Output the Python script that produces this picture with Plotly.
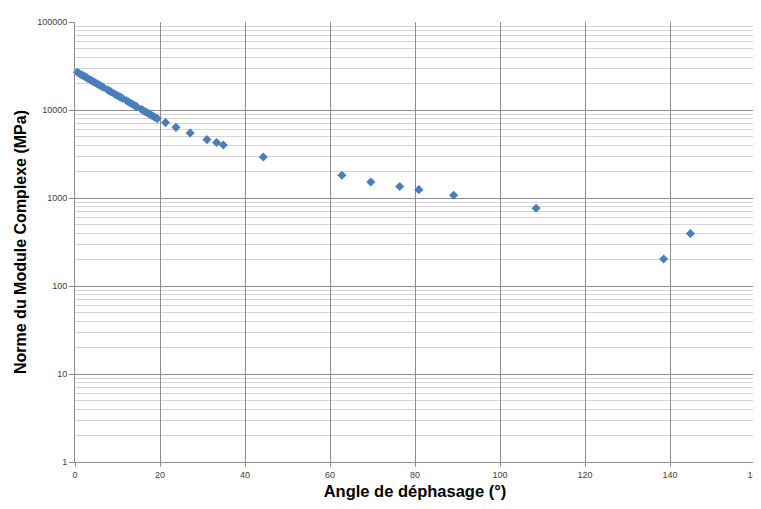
import plotly.graph_objects as go

# Phase angle (degrees) and complex modulus norm (MPa)
angle_deg = [0.54, 1.01, 1.48, 1.95, 2.42, 2.89, 3.36, 3.84, 4.31, 4.78, 5.25, 5.72,
             6.19, 6.66, 7.60, 8.07, 8.54, 9.25, 9.72, 10.19, 10.66, 11.13, 12.07,
             12.54, 13.01, 13.48, 13.95, 14.42, 15.60, 16.07, 16.54, 17.01, 17.48,
             17.95, 18.42, 18.89, 19.36, 21.3, 23.75, 27.1, 31.05, 33.3, 34.9, 44.3,
             62.8, 69.6, 76.4, 80.9, 89.1, 108.5, 138.5, 144.8]
modulus_mpa = [26800, 26000, 25200, 24500, 23800, 23000, 22400, 21700, 21000, 20400,
               19800, 19200, 18600, 18100, 17000, 16500, 16000, 15300, 14800, 14400,
               14000, 13600, 12800, 12400, 12000, 11700, 11300, 11000, 10200, 9870,
               9570, 9290, 9010, 8740, 8480, 8230, 7990, 7190, 6350, 5480, 4610, 4270,
               4000, 2925, 1811, 1520, 1350, 1245, 1075, 764, 203, 394]

x_ticks = [0, 20, 40, 60, 80, 100, 120, 140, 160]
y_ticks = [1, 10, 100, 1000, 10000, 100000]
y_tick_text = ["1", "10", "100", "1000", "10000", "100000"]

fig = go.Figure()
fig.add_trace(go.Scatter(
    x=angle_deg, y=modulus_mpa, mode="markers",
    marker=dict(symbol="diamond", size=7, color="#4A7EBB", line=dict(width=0)),
    showlegend=False, cliponaxis=False,
))

fig.update_layout(
    width=753, height=493,
    margin=dict(l=67, r=6, t=14, b=39, autoexpand=False),
    paper_bgcolor="white", plot_bgcolor="white",
    font=dict(family="Liberation Sans, Arial, sans-serif", size=9, color="#404040"),
)
fig.update_xaxes(
    range=[0, 160], tickvals=x_ticks, ticktext=[str(v) for v in x_ticks],
    ticklabeloverflow="allow", automargin=False,
    showgrid=True, gridcolor="#8c8c8c", gridwidth=1,
    showline=True, linecolor="#8c8c8c", linewidth=1,
    ticks="outside", ticklen=4, tickcolor="#8c8c8c",
    zeroline=False,
    tickfont=dict(size=9, color="#404040"),
    title=dict(text="<b>Angle de déphasage (°)</b>", standoff=6,
               font=dict(size=16.5, color="#000000")),
)
fig.update_yaxes(
    type="log", range=[0, 5], tickvals=y_ticks, ticktext=y_tick_text,
    showgrid=True, gridcolor="#8c8c8c", gridwidth=1,
    showline=True, linecolor="#8c8c8c", linewidth=1,
    ticks="outside", ticklen=5, tickcolor="#8c8c8c",
    zeroline=False,
    minor=dict(dtick="D1", showgrid=True, gridcolor="#d4d4d4", ticks=""),
    tickfont=dict(size=9, color="#404040"),
    title=dict(text="<b>Norme du Module Complexe (MPa)</b>", standoff=6,
               font=dict(size=16, color="#000000")),
)

fig.write_html("out.html")
